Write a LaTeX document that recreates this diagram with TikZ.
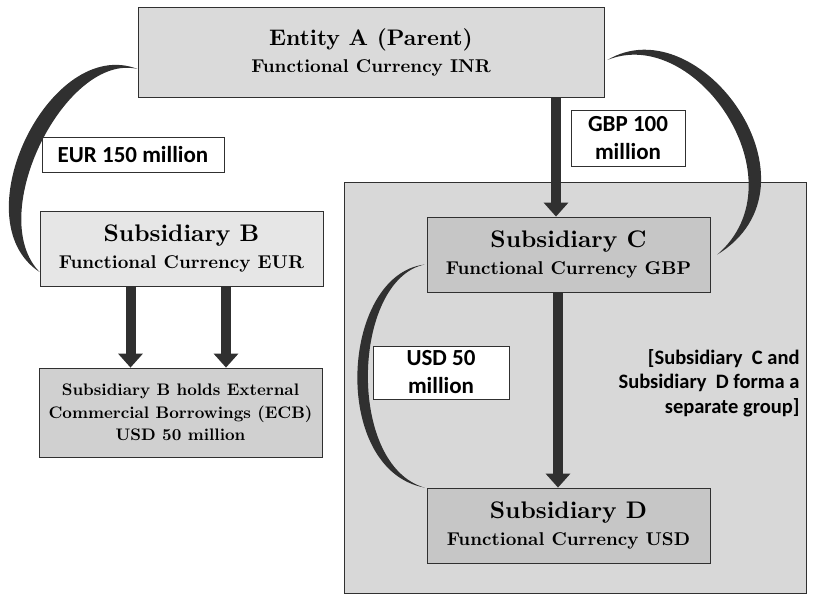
\documentclass[tikz,border=0pt]{standalone}
\usepackage{fontspec}
\newfontfamily\lblfont{Carlito}
\newfontfamily\boxfont{lmroman10-bold}[Extension=.otf]
\usetikzlibrary{arrows.meta}
\definecolor{parentfill}{HTML}{DADADA}
\definecolor{subbfill}{HTML}{E6E6E6}
\definecolor{ecbfill}{HTML}{D0D0D0}
\definecolor{groupfill}{HTML}{D8D8D8}
\definecolor{subcfill}{HTML}{C6C6C6}
\definecolor{darkink}{HTML}{303030}

\begin{document}
\begin{tikzpicture}[x=1pt, y=-1pt,
    entity/.style={draw=darkink, line width=0.8pt, align=center, inner sep=0pt,
                   font=\boxfont\fontsize{18.5}{27}\selectfont},
    lbl/.style={draw=darkink, fill=white, line width=0.6pt, align=center, inner sep=0pt,
                font=\lblfont\bfseries\fontsize{23}{28}\selectfont},
    bigarrow/.style={draw=darkink, line width=10pt, -{Triangle[width=24pt, length=14pt]}},
    swoosh/.style={fill=darkink, draw=none}]
    \useasboundingbox (0,0) rectangle (818,602);
    % separate group of C and D
    \node[draw=darkink, fill=groupfill, minimum width=462pt, minimum height=411pt] (grp) at (575,387.5) {};
    % entities
    \node[entity, fill=parentfill, minimum width=466pt, minimum height=90pt] (entA) at (371,52)
        {\fontsize{22.5}{26}\selectfont Entity A (Parent)\\Functional Currency INR};
    \node[entity, fill=subbfill, minimum width=283pt, minimum height=75pt] (subB) at (181.5,248.5)
        {\fontsize{24}{26}\selectfont Subsidiary B\\Functional Currency EUR};
    \node[entity, fill=ecbfill, minimum width=283pt, minimum height=89pt,
          font=\boxfont\fontsize{16.7}{22.5}\selectfont] (ecb) at (180.5,412.5)
        {Subsidiary B holds External\\Commercial Borrowings (ECB)\\USD 50 million};
    \node[entity, fill=subcfill, minimum width=283pt, minimum height=75pt] (subC) at (568.5,254.5)
        {\fontsize{24}{26}\selectfont Subsidiary C\\Functional Currency GBP};
    \node[entity, fill=subcfill, minimum width=283pt, minimum height=75pt] (subD) at (568.5,525.5)
        {\fontsize{24}{26}\selectfont Subsidiary D\\Functional Currency USD};
    % amounts
    \node[lbl, minimum width=182pt, minimum height=35pt] (eurlbl) at (133,154.5) {EUR 150 million};
    \node[lbl, minimum width=114pt, minimum height=56pt] (gbplbl) at (628,138) {GBP 100\\million};
    \node[lbl, minimum width=136pt, minimum height=53pt] (usdlbl) at (441,372.5) {USD 50\\million};
    \node[align=right, anchor=east, font=\lblfont\bfseries\fontsize{20.5}{24.5}\selectfont] (note) at (803,383)
        {[Subsidiary\ \ C and\\Subsidiary\ \ D forma a\\separate group]};
    % straight arrows
    \coordinate (acol) at (556,0);
    \draw[bigarrow] (entA.south -| acol) -- (subC.north -| acol);
    \draw[bigarrow] ([xshift=-51pt]subB.south) -- ([xshift=-51pt]subB.south |- ecb.north);
    \draw[bigarrow] ([xshift=44.5pt]subB.south) -- ([xshift=44.5pt]subB.south |- ecb.north);
    \draw[bigarrow] ([xshift=-10.5pt]subC.south) -- ([xshift=-10.5pt]subD.north);
    % curved swooshes
    \coordinate (lt1) at ([yshift=-17pt]entA.west);
    \coordinate (lt2) at ([yshift=-23.5pt]subB.west);
    \fill[swoosh] (lt1) .. controls (50,35) and (-40,220) .. (lt2)
        .. controls (-16,215) and (66,52) .. (lt1);
    \coordinate (rt1) at ([shift={(3pt,-8pt)}]entA.east);
    \coordinate (rt2) at ([xshift=7pt]subC.east);
    \fill[swoosh] (rt1) .. controls (700,5) and (830,185) .. (rt2)
        .. controls (803,180) and (695,24) .. (rt1);
    \coordinate (it1) at ([shift={(-2pt,-10pt)}]subC.west);
    \coordinate (it2) at ([xshift=-2pt]subD.north west);
    \fill[swoosh] (it1) .. controls (340,275) and (330,470) .. (it2)
        .. controls (346,465) and (352,280) .. (it1);
\end{tikzpicture}
\end{document}
